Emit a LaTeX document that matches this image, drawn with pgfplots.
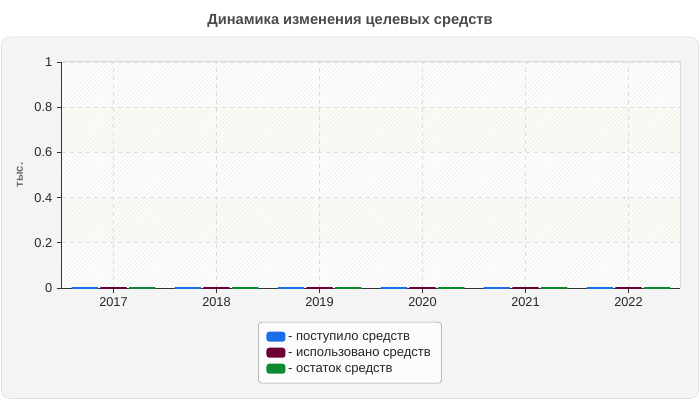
\documentclass[border=0pt]{standalone}
\usepackage{fontspec}
\setmainfont{Liberation Sans}
\usepackage{pgfplots}
\pgfplotsset{compat=1.18}
\usetikzlibrary{patterns.meta}

\definecolor{cblue}{HTML}{1A6FE8}
\definecolor{cmaroon}{HTML}{6A0036}
\definecolor{cgreen}{HTML}{0B8A30}
\definecolor{panel}{HTML}{F4F4F4}
\definecolor{panelline}{HTML}{E0E0E0}
\definecolor{titlecol}{HTML}{4A4A4A}
\definecolor{labelcol}{HTML}{6E6E6E}
\definecolor{gridcol}{HTML}{DCDCDC}
\definecolor{bandcol}{HTML}{FDFDF5}
\definecolor{hatchcol}{HTML}{EEEEEE}
\definecolor{legline}{HTML}{9A9A9A}
\definecolor{legfill}{HTML}{FCFCFC}

\begin{document}
\begin{tikzpicture}[x=0.75pt,y=0.75pt]
\fill[white] (0,0) rectangle (700,400);
\filldraw[fill=panel, draw=panelline, rounded corners=6pt] (1.5,1.5) rectangle (698.5,363);
\node[font=\bfseries\fontsize{11}{13}\selectfont, text=titlecol] at (350,379) {Динамика изменения целевых средств};
% plot area background: bands and hatching (plot area is 62..680 x 112..338)
\fill[white] (62,112) rectangle (680,338);
\fill[bandcol] (62,157.2) rectangle (680,202.4);
\fill[bandcol] (62,247.6) rectangle (680,292.8);
\fill[pattern={Lines[angle=45,distance=2.2pt,line width=0.5pt]}, pattern color=hatchcol]
  (62,112) rectangle (680,338);
\draw[gridcol, line width=0.75pt] (62,338) -- (680,338) -- (680,112);

\begin{axis}[
  at={(46.5pt,84pt)}, anchor=south west,
  scale only axis, width=463.5pt, height=169.5pt,
  xmin=-0.5, xmax=5.5, ymin=0, ymax=1,
  xtick={0,1,2,3,4,5},
  xticklabels={2017,2018,2019,2020,2021,2022},
  ytick={0,0.2,0.4,0.6,0.8,1},
  axis x line*=bottom, axis y line*=left,
  axis line style={draw=black!80, line width=0.75pt},
  tick align=outside, major tick length=3.75pt,
  tick style={draw=black!80, line width=0.6pt},
  grid=major,
  major grid style={dashed, draw=gridcol, line width=0.6pt},
  ticklabel style={font=\fontsize{9.6}{11}\selectfont, text=black!85},
  /pgf/number format/assume math mode=true,
  ylabel={тыс.},
  ylabel style={at={(axis description cs:-0.068,0.5)}, anchor=center,
    font=\bfseries\fontsize{8.5}{10}\selectfont, text=labelcol},
  legend style={at={(axis description cs:0.466,-0.15)}, anchor=north,
    draw=legline, fill=legfill, rounded corners=2.5pt,
    font=\fontsize{9.75}{12}\selectfont, text=black!85,
    inner xsep=6pt, inner ysep=4.9pt, row sep=0pt,
    nodes={text height=7.5pt, text depth=2pt, inner ysep=1.25pt}},
  legend cell align=left,
]
\addplot[ybar, bar width=0.255, bar shift=-0.28, fill=cblue, draw=cblue, line width=1.5pt,
  legend image code/.code={\fill[cblue, rounded corners=1.5pt] (0pt,-3pt) rectangle (12.75pt,3pt);}]
  coordinates {(0,0)(1,0)(2,0)(3,0)(4,0)(5,0)};
\addlegendentry{- поступило средств}
\addplot[ybar, bar width=0.255, bar shift=0, fill=cmaroon, draw=cmaroon, line width=1.5pt,
  legend image code/.code={\fill[cmaroon, rounded corners=1.5pt] (0pt,-3pt) rectangle (12.75pt,3pt);}]
  coordinates {(0,0)(1,0)(2,0)(3,0)(4,0)(5,0)};
\addlegendentry{- использовано средств}
\addplot[ybar, bar width=0.255, bar shift=0.28, fill=cgreen, draw=cgreen, line width=1.5pt,
  legend image code/.code={\fill[cgreen, rounded corners=1.5pt] (0pt,-3pt) rectangle (12.75pt,3pt);}]
  coordinates {(0,0)(1,0)(2,0)(3,0)(4,0)(5,0)};
\addlegendentry{- остаток средств}
\end{axis}
\end{tikzpicture}
\end{document}
